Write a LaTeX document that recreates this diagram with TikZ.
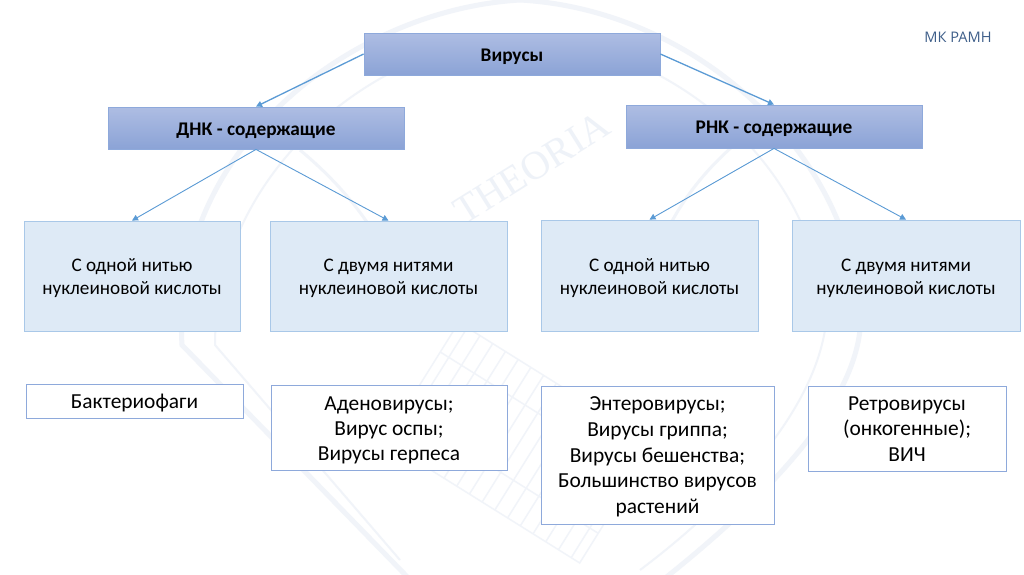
\documentclass[tikz,border=0pt]{standalone}
\usepackage{fontspec}
\setmainfont{Carlito}
\newfontfamily\logofont{Open Sans}
\newfontfamily\wmfont{Liberation Serif}
\usetikzlibrary{arrows.meta}
\newcommand{\tp}[1]{\rule{0pt}{#1pt}}
\definecolor{arrowblue}{HTML}{5B9BD5}
\definecolor{hdrtop}{HTML}{AEBDE3}
\definecolor{hdrbot}{HTML}{8BA3D6}
\definecolor{hdredge}{HTML}{8EA9DB}
\definecolor{lightfill}{HTML}{DEEAF6}
\definecolor{lightedge}{HTML}{A9C8E8}
\definecolor{plainedge}{HTML}{8EA9DB}
\definecolor{logoblue}{HTML}{3F5F8A}
\definecolor{wm}{HTML}{EEF2F8}
\definecolor{wmline}{HTML}{F1F4F9}
\tikzset{
  x=1pt,y=-1pt,
  hdr/.style={draw=hdredge,line width=0.8pt,top color=hdrtop,bottom color=hdrbot,font=\fontsize{19.3}{23}\selectfont\bfseries,inner sep=0pt,anchor=center,align=center},
  mid/.style={draw=lightedge,line width=0.8pt,fill=lightfill,font=\fontsize{19.2}{23}\selectfont,inner sep=0pt,anchor=center,align=center},
  leaf/.style={draw=plainedge,line width=0.8pt,fill=white,font=\fontsize{21.4}{25.7}\selectfont,inner sep=0pt,anchor=center,align=center},
  conn/.style={draw=arrowblue,line width=1.3pt,-{Triangle[length=6pt,width=6pt]}},
  connthin/.style={draw=arrowblue,line width=0.9pt,-{Triangle[length=6pt,width=6pt]}},
  wmtext/.style={text=wm,inner sep=0pt,rotate=32,font=\wmfont\fontsize{40}{44}\selectfont}
}
\begin{document}
\begin{tikzpicture}
\useasboundingbox (0,0) rectangle (1024,574);
\fill[white] (0,0) rectangle (1024,574);
% faint watermark emblem
\begin{scope}[draw=wmline,line width=5pt]
\draw (420,590) -- (182,345) .. controls (170,150) and (350,10) .. (520,0)
      .. controls (700,10) and (860,160) .. (860,330) .. controls (850,420) and (740,520) .. (650,590);
\draw[line width=2pt] (400,560) -- (215,345) .. controls (215,175) and (370,45) .. (520,35)
      .. controls (680,45) and (825,175) .. (825,330) .. controls (810,420) and (720,510) .. (640,570);
\draw[line width=3pt] (300,150) .. controls (360,200) and (400,260) .. (410,330);
\draw[line width=3pt] (740,140) .. controls (680,190) and (650,250) .. (640,320);
\begin{scope}[shift={(515,440)},rotate=-32,line width=1.5pt]
\foreach \i in {-100,-85,...,110} {\draw (\i,-70) -- (\i,70);}
\draw (-110,-70) rectangle (120,70);
\draw (-110,-35) -- (120,-35);
\draw (-110,35) -- (120,35);
\end{scope}
\end{scope}
\node[wmtext] (wa) at (532,168) {THEORIA};
% diagram
\node[hdr,minimum width=296pt,minimum height=42pt] (vir) at (512,54) {\tp{19}Вирусы};
\node[hdr,minimum width=296pt,minimum height=42pt] (dna) at (256,128) {\tp{18}ДНК - содержащие};
\node[hdr,minimum width=296pt,minimum height=43pt] (rna) at (774,126.5) {\tp{16.5}РНК - содержащие};
\node[mid,minimum width=216pt,minimum height=110pt] (m1) at (132,276) {\tp{17.3}С одной нитью\\нуклеиновой кислоты};
\node[mid,minimum width=237pt,minimum height=110pt] (m2) at (388.5,276) {\tp{17.3}С двумя нитями\\нуклеиновой кислоты};
\node[mid,minimum width=217pt,minimum height=111pt] (m3) at (649.5,275.5) {\tp{18.3}С одной нитью\\нуклеиновой кислоты};
\node[mid,minimum width=228pt,minimum height=111pt] (m4) at (906,275.5) {\tp{18.3}С двумя нитями\\нуклеиновой кислоты};
\node[leaf,minimum width=217pt,minimum height=34pt] (l1) at (134.5,401) {\tp{18.3}Бактериофаги};
\node[leaf,minimum width=236pt,minimum height=85pt,font=\fontsize{21.4}{25}\selectfont] (l2) at (389,427.5) {\tp{18.8}Аденовирусы;\\Вирус оспы;\\Вирусы герпеса};
\node[leaf,minimum width=233pt,minimum height=138pt] (l3) at (657.5,455) {\tp{17.8}Энтеровирусы;\\Вирусы гриппа;\\Вирусы бешенства;\\Большинство вирусов\\растений};
\node[leaf,minimum width=198pt,minimum height=85pt] (l4) at (907,428.5) {\tp{14.8}Ретровирусы\\(онкогенные);\\ВИЧ};
\node[font=\logofont\fontsize{14.6}{17}\selectfont,text=logoblue,inner sep=0pt] (logo) at (958,37.5) {МК РАМН};
\draw[conn] (vir.west) -- (dna.north);
\draw[conn] (vir.east) -- (rna.north);
\draw[connthin] (dna.south) -- (m1.north);
\draw[connthin] (dna.south) -- (m2.north);
\draw[connthin] (rna.south) -- (m3.north);
\draw[connthin] (rna.south) -- (m4.north);
\end{tikzpicture}
\end{document}
